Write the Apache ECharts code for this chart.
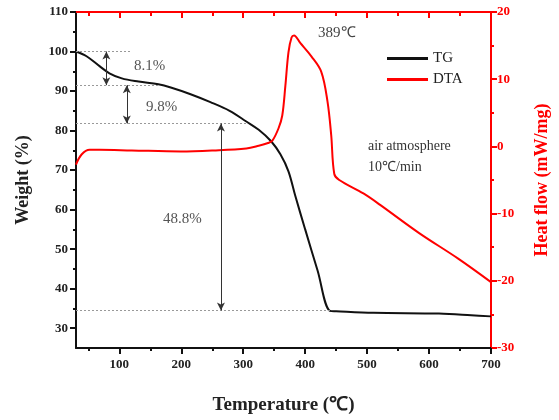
<!DOCTYPE html>
<html>
<head>
<meta charset="utf-8">
<script src="https://cdn.jsdelivr.net/npm/echarts@6/dist/echarts.min.js"></script>
<style>
    html, body { margin: 0; padding: 0; background: #fff; }
    #chart { width: 559px; height: 420px; }
</style>
</head>
<body>
<div id="chart"></div>
<script>
    // TG curve: temperature (℃) vs weight (%)
    const tgTemp = [30, 47, 68, 84, 104, 131, 163, 183, 215, 247, 278, 305, 325, 345, 360, 373, 384, 400, 420, 440, 450, 510, 616, 668, 700];
    const tgWeight = [100, 98.8, 96.3, 94.5, 93.2, 92.4, 91.7, 90.9, 89.2, 87.2, 85, 82.3, 80.2, 77.3, 74, 69.7, 63.5, 55, 44.6, 34.4, 34.3, 33.9, 33.7, 33.3, 33];
    // DTA curve: temperature (℃) vs heat flow (mW/mg)
    const dtaTemp = [30, 39, 52, 68, 120, 199, 252, 305, 325, 340, 347, 357, 363, 368, 373, 378, 382, 392, 410, 426, 436, 442, 447, 455, 494, 521, 584, 647, 700];
    const dtaHeat = [-2.7, -1.2, -0.5, -0.5, -0.6, -0.75, -0.6, -0.3, 0.1, 0.5, 0.85, 2.7, 4.6, 9, 14, 16.2, 16.5, 15.4, 13.4, 11.1, 6.7, 1.7, -4.1, -5, -7, -8.7, -12.9, -16.7, -20.2];

    const xMajor = [100, 200, 300, 400, 500, 600, 700];
    const xMinor = [50, 150, 250, 350, 450, 550, 650];
    const yMajor = [30, 40, 50, 60, 70, 80, 90, 100, 110];
    const yMinor = [35, 45, 55, 65, 75, 85, 95, 105];

    // weight-loss steps: levels and where the arrows sit
    const stepLevels = [100, 91.5, 81.8, 34.5];
    const stepEnds = [120, 165, 305, 440];
    const arrowTemps = [79, 112, 264];

    const chart = echarts.init(document.getElementById('chart'));
    const serif = 'Liberation Serif, Times New Roman, serif';

    const tickLabel = { fontFamily: serif, fontWeight: 'bold', fontSize: 13, color: '#222' };

    const guideLines = stepLevels.map((v, i) => [
        { coord: [30, v] },
        { coord: [stepEnds[i], v] }
    ]);
    const arrowLines = arrowTemps.map((t, i) => [
        { coord: [t, stepLevels[i]] },
        { coord: [t, stepLevels[i + 1]] }
    ]);

    const option = {
        animation: false,
        grid: { left: 76, right: 58, top: 12, bottom: 66 },
        legend: {
            orient: 'vertical',
            left: 382,
            top: 46,
            itemWidth: 41,
            itemHeight: 3,
            itemGap: 6,
            icon: 'rect',
            textStyle: { fontFamily: serif, fontSize: 15, color: '#222' },
            data: ['TG', 'DTA']
        },
        xAxis: [
            {
                type: 'value', position: 'bottom', min: 30, max: 700,
                name: 'Temperature (℃)', nameLocation: 'middle', nameGap: 48,
                nameTextStyle: { fontFamily: serif, fontWeight: 'bold', fontSize: 19, color: '#222' },
                axisLine: { onZero: false, lineStyle: { color: '#111', width: 2 } },
                axisTick: { customValues: xMajor, length: 6, lineStyle: { color: '#111', width: 2 } },
                axisLabel: Object.assign({ customValues: xMajor, margin: 10 }, tickLabel),
                splitLine: { show: false }
            },
            {
                type: 'value', position: 'bottom', min: 30, max: 700,
                axisLine: { show: false, onZero: false },
                axisTick: { customValues: xMinor, length: 3, lineStyle: { color: '#111', width: 2 } },
                axisLabel: { show: false },
                splitLine: { show: false }
            },
            {
                type: 'value', position: 'top', min: 30, max: 700,
                axisLine: { onZero: false, lineStyle: { color: '#f00', width: 2 } },
                axisTick: { customValues: xMajor, inside: true, length: 6, lineStyle: { color: '#f00', width: 2 } },
                axisLabel: { show: false },
                splitLine: { show: false }
            },
            {
                type: 'value', position: 'top', min: 30, max: 700,
                axisLine: { show: false, onZero: false },
                axisTick: { customValues: xMinor, inside: true, length: 4, lineStyle: { color: '#f00', width: 2 } },
                axisLabel: { show: false },
                splitLine: { show: false }
            }
        ],
        yAxis: [
            {
                type: 'value', position: 'left', min: 25, max: 110,
                name: 'Weight (%)', nameLocation: 'middle', nameGap: 44,
                nameTextStyle: { fontFamily: serif, fontWeight: 'bold', fontSize: 18, color: '#222' },
                axisLine: { onZero: false, lineStyle: { color: '#111', width: 2 } },
                axisTick: { customValues: yMajor, length: 6, lineStyle: { color: '#111', width: 2 } },
                axisLabel: Object.assign({ customValues: yMajor, margin: 8 }, tickLabel),
                splitLine: { show: false }
            },
            {
                type: 'value', position: 'left', min: 25, max: 110,
                axisLine: { show: false, onZero: false },
                axisTick: { customValues: yMinor, length: 3, lineStyle: { color: '#111', width: 2 } },
                axisLabel: { show: false },
                splitLine: { show: false }
            },
            {
                type: 'value', position: 'right', min: -30, max: 20, interval: 10,
                name: 'Heat flow (mW/mg)', nameLocation: 'middle', nameGap: 42, nameRotate: 90,
                nameTextStyle: { fontFamily: serif, fontWeight: 'bold', fontSize: 18, color: '#f00' },
                axisLine: { onZero: false, lineStyle: { color: '#f00', width: 2 } },
                axisTick: { length: 6, lineStyle: { color: '#f00', width: 2 } },
                minorTick: { show: true, splitNumber: 2, length: 3, lineStyle: { color: '#f00', width: 2 } },
                axisLabel: Object.assign({}, tickLabel, { color: '#f00', margin: 6 }),
                splitLine: { show: false }
            }
        ],
        series: [
            {
                name: 'TG', type: 'line', xAxisIndex: 0, yAxisIndex: 0,
                data: tgTemp.map((t, i) => [t, tgWeight[i]]),
                smooth: 0.35, showSymbol: false,
                lineStyle: { color: '#111', width: 2 },
                itemStyle: { color: '#111' },
                markLine: {
                    silent: true, symbol: 'none',
                    label: { show: false },
                    lineStyle: { color: '#999', type: [2, 2], width: 1 },
                    data: guideLines
                }
            },
            {
                name: 'DTA', type: 'line', xAxisIndex: 0, yAxisIndex: 2,
                data: dtaTemp.map((t, i) => [t, dtaHeat[i]]),
                smooth: 0.35, showSymbol: false,
                lineStyle: { color: '#f00', width: 2 },
                itemStyle: { color: '#f00' }
            },
            {
                name: 'arrows', type: 'line', xAxisIndex: 0, yAxisIndex: 0,
                data: [],
                markLine: {
                    silent: true, symbol: ['arrow', 'arrow'], symbolSize: [6, 8],
                    label: { show: false },
                    lineStyle: { color: '#333', type: 'solid', width: 1 },
                    data: arrowLines
                }
            }
        ],
        graphic: [
            { type: 'text', left: 134, top: 59, style: { text: '8.1%', font: '15px ' + serif, fill: '#555' } },
            { type: 'text', left: 146, top: 100, style: { text: '9.8%', font: '15px ' + serif, fill: '#555' } },
            { type: 'text', left: 163, top: 212, style: { text: '48.8%', font: '15px ' + serif, fill: '#555' } },
            { type: 'text', left: 318, top: 26, style: { text: '389℃', font: '15px ' + serif, fill: '#444' } },
            { type: 'text', left: 368, top: 139, style: { text: 'air atmosphere', font: '14px ' + serif, fill: '#333' } },
            { type: 'text', left: 368, top: 160, style: { text: '10℃/min', font: '14px ' + serif, fill: '#333' } }
        ]
    };
    chart.setOption(option);
</script>
</body>
</html>
